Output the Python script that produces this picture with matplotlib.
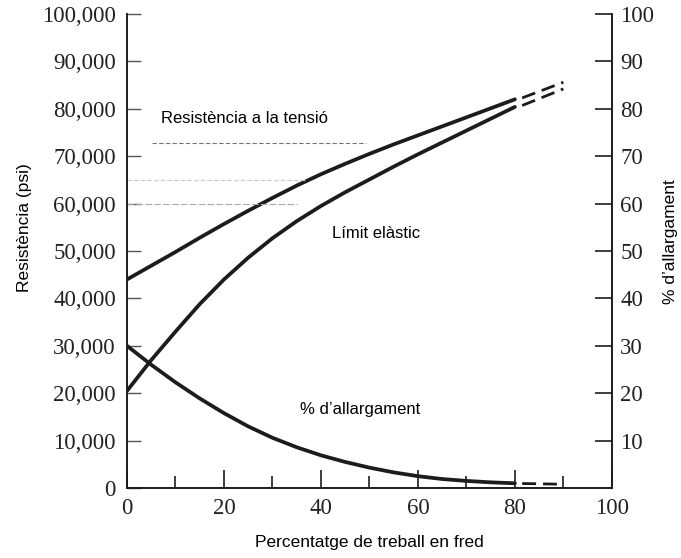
import matplotlib
matplotlib.use("Agg")
import matplotlib.pyplot as plt
from matplotlib.ticker import FuncFormatter, MultipleLocator

# ---- data ----
pct = [0, 5, 10, 15, 20, 25, 30, 35, 40, 45, 50, 55, 60, 65, 70, 75, 80]
tensile = [44000, 46900, 49800, 52800, 55700, 58500, 61200, 63800, 66200,
           68400, 70500, 72500, 74400, 76300, 78200, 80100, 82000]
yield_str = [20500, 27000, 33000, 38800, 44000, 48600, 52700, 56300, 59500,
             62400, 65100, 67800, 70400, 72900, 75400, 77900, 80400]
elong = [30.0, 26.0, 22.3, 18.9, 15.8, 13.0, 10.6, 8.6, 6.9, 5.5, 4.3,
         3.3, 2.5, 1.9, 1.5, 1.2, 1.0]

ext_pct = [81.5, 90]
tensile_ext = [82300, 85600]
yield_ext = [80700, 84200]
elong_ext = [0.95, 0.8]

x_ticks = [0, 20, 40, 60, 80, 100]
left_ticks = [0, 10000, 20000, 30000, 40000, 50000, 60000, 70000, 80000, 90000, 100000]
right_ticks = [10, 20, 30, 40, 50, 60, 70, 80, 90, 100]

labels = {
    "tensile": "Resistència a la tensió",
    "yield": "Límit elàstic",
    "elong": "% d’allargament",
}

# ---- figure ----
fig = plt.figure(figsize=(6.81, 5.58), dpi=100)
ax = fig.add_axes([0.1865, 0.1254, 0.712, 0.8495])
ax2 = ax.twinx()

ink = "#1c1c1c"
lw = 2.7

ax.plot(pct, tensile, color=ink, lw=lw, solid_capstyle="round",
        solid_joinstyle="round")
ax.plot(pct, yield_str, color=ink, lw=lw, solid_capstyle="round",
        solid_joinstyle="round")
ax.plot(ext_pct, tensile_ext, color=ink, lw=2.0, dashes=(5, 2.5))
ax.plot(ext_pct, yield_ext, color=ink, lw=2.0, dashes=(5, 2.5))
ax2.plot(pct, elong, color=ink, lw=lw, solid_capstyle="round",
         solid_joinstyle="round")
ax2.plot(ext_pct, elong_ext, color=ink, lw=2.0, dashes=(5, 2.5))

# faint leader / scan lines
ax.plot([5.2, 49.3], [72800, 72800], color="#777777", lw=0.8, dashes=(4, 2))
ax.plot([0, 37], [65000, 65000], color="#cccccc", lw=0.8, dashes=(4, 2))
ax.plot([0, 35], [60000, 60000], color="#aaaaaa", lw=0.8, dashes=(6, 2))

ax.set_xlim(0, 100)
ax.set_ylim(0, 100000)
ax2.set_ylim(0, 100)

for a in (ax, ax2):
    a.spines["top"].set_visible(False)
    for s in ("left", "right", "bottom"):
        a.spines[s].set_linewidth(1.2)
        a.spines[s].set_color(ink)

serif = "Liberation Serif"
sans = "Liberation Sans"

ax.set_xticks(x_ticks)
ax.xaxis.set_minor_locator(MultipleLocator(10))
ax.tick_params(axis="x", which="major", direction="in", length=13, width=1.2,
               color=ink, pad=7)
ax.tick_params(axis="x", which="minor", direction="in", length=9, width=1.2,
               color=ink)
ax.set_yticks(left_ticks)
ax.yaxis.set_major_formatter(FuncFormatter(lambda v, p: f"{int(v):,}"))
ax.tick_params(axis="y", direction="in", length=10, width=1.0, color="#555555",
               pad=8)
ax2.set_yticks(right_ticks)
ax2.tick_params(axis="y", direction="in", length=12, width=1.2, color=ink,
                pad=6)

for lab in ax.get_xticklabels() + ax.get_yticklabels() + ax2.get_yticklabels():
    lab.set_fontfamily(serif)
    lab.set_fontsize(16.5)
    lab.set_color("#222222")

ax.set_xlabel("Percentatge de treball en fred", fontfamily=sans, fontsize=12.5,
              labelpad=12)
ax.set_ylabel("Resistència (psi)", fontfamily=sans, fontsize=12.5)
ax.yaxis.set_label_coords(-0.196, 0.55)
ax2.set_ylabel("% d’allargament", fontfamily=sans, fontsize=12.5)
ax2.yaxis.set_label_coords(1.105, 0.52)

ax.text(7.0, 78000, labels["tensile"], fontfamily=sans, fontsize=12,
        va="center", ha="left")
ax.text(42.3, 53800, labels["yield"], fontfamily=sans, fontsize=12,
        va="center", ha="left")
ax.text(35.7, 16500, labels["elong"], fontfamily=sans, fontsize=12,
        va="center", ha="left")

fig.savefig("out.png", dpi=100)
